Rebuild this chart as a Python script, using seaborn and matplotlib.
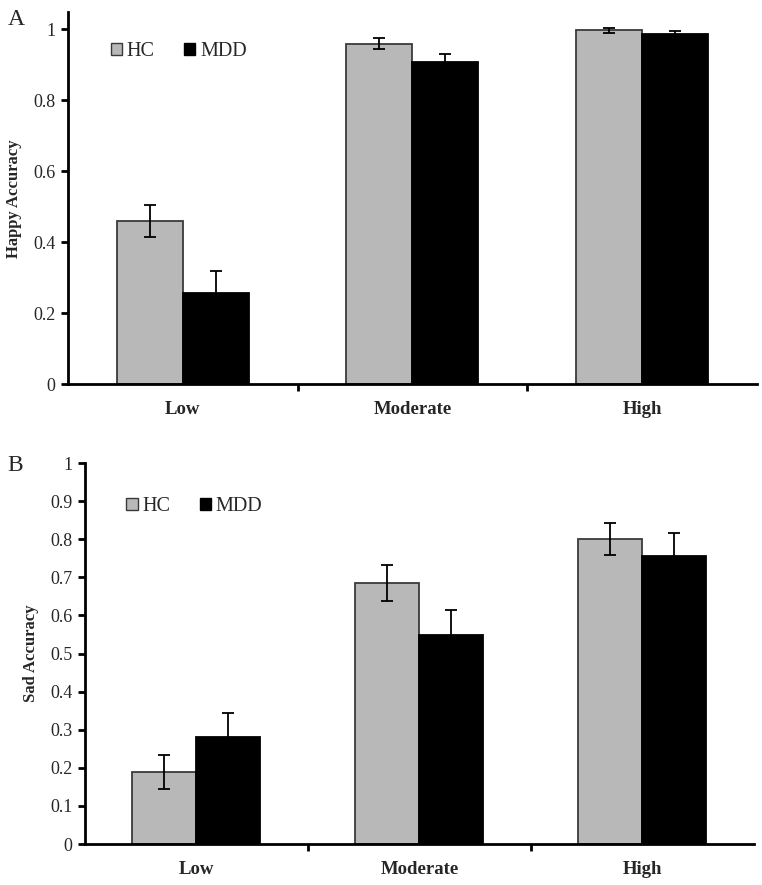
import pandas as pd
import seaborn as sns
import matplotlib.pyplot as plt
from matplotlib.patches import Patch
from matplotlib.ticker import FuncFormatter

levels = ["Low", "Moderate", "High"]
groups = ["HC", "MDD"]

happy_hc = [0.46, 0.96, 0.997]
happy_mdd = [0.258, 0.909, 0.986]
happy_hc_err = [0.045, 0.016, 0.007]
happy_mdd_err = [0.06, 0.022, 0.009]

sad_hc = [0.189, 0.685, 0.80]
sad_mdd = [0.281, 0.549, 0.757]
sad_hc_err = [0.044, 0.048, 0.042]
sad_mdd_err = [0.063, 0.065, 0.06]

fill = {"HC": "#b8b8b8", "MDD": "#000000"}
edge = {"HC": "#3a3a3a", "MDD": "#000000"}

sns.set_style("white")
plt.rcParams["font.family"] = ["Liberation Serif", "DejaVu Serif"]


def panel(ax, hc, mdd, hc_err, mdd_err, ylabel, ymax, step, leg_xy):
    df = pd.DataFrame({
        "level": levels * 2,
        "group": ["HC"] * 3 + ["MDD"] * 3,
        "acc": hc + mdd,
    })
    sns.barplot(data=df, x="level", y="acc", hue="group", order=levels,
                hue_order=groups, palette=fill, errorbar=None, width=0.574,
                saturation=1, ax=ax, legend=False)
    # error bars on top of the bars seaborn drew
    for cont, g, err in zip(ax.containers, groups, [hc_err, mdd_err]):
        xs, ys = [], []
        for bar in cont:
            bar.set_edgecolor(edge[g])
            bar.set_linewidth(1.3)
            xs.append(bar.get_x() + bar.get_width() / 2)
            ys.append(bar.get_height())
        ax.errorbar(xs, ys, yerr=err, fmt="none", ecolor="black",
                    elinewidth=1.3, capsize=4, capthick=1.3, zorder=5)

    ax.set_xlim(-0.5, 2.5)
    ax.set_ylim(0, ymax)
    ax.set_yticks([i * step for i in range(int(round(1 / step)) + 1)])
    ax.yaxis.set_major_formatter(FuncFormatter(lambda v, p: "%g" % round(v, 2)))
    ax.set_xticks([0, 1, 2])
    ax.set_xticklabels(levels, fontweight="bold", fontsize=13.5)
    ax.set_xticks([0.5, 1.5], minor=True)
    ax.tick_params(axis="x", which="major", length=0, pad=12)
    ax.tick_params(axis="x", which="minor", direction="out", length=5,
                   width=2, color="black", bottom=True)
    ax.tick_params(axis="y", direction="out", length=5, width=2,
                   color="black", labelsize=13, left=True, pad=4)
    ax.set_xlabel("")
    ax.set_ylabel(ylabel, fontweight="bold", fontsize=12, labelpad=8)
    sns.despine(ax=ax)
    for s in ["left", "bottom"]:
        ax.spines[s].set_color("black")
        ax.spines[s].set_linewidth(2)

    handles = [Patch(facecolor=fill[g], edgecolor=edge[g], linewidth=1,
                     label=g) for g in groups]
    ax.legend(handles=handles, ncol=2, frameon=False, loc="upper left",
              bbox_to_anchor=leg_xy, fontsize=14.5, handlelength=0.55,
              handleheight=0.55, handletextpad=0.25, columnspacing=1.45,
              borderpad=0, borderaxespad=0)


fig = plt.figure(figsize=(7.62, 8.85), dpi=100)
ax1 = fig.add_axes([0.0892, 0.566, 0.904, 0.420])
ax2 = fig.add_axes([0.1115, 0.0463, 0.878, 0.4305])

panel(ax1, happy_hc, happy_mdd, happy_hc_err, happy_mdd_err,
      "Happy Accuracy", 1.048, 0.2, (0.062, 0.92))
panel(ax2, sad_hc, sad_mdd, sad_hc_err, sad_mdd_err,
      "Sad Accuracy", 1.0, 0.1, (0.062, 0.91))

fig.text(0.01, 0.99, "A", fontsize=17, va="top")
fig.text(0.01, 1 - 455 / 885, "B", fontsize=17, va="top")

fig.savefig("out.png", dpi=100)
